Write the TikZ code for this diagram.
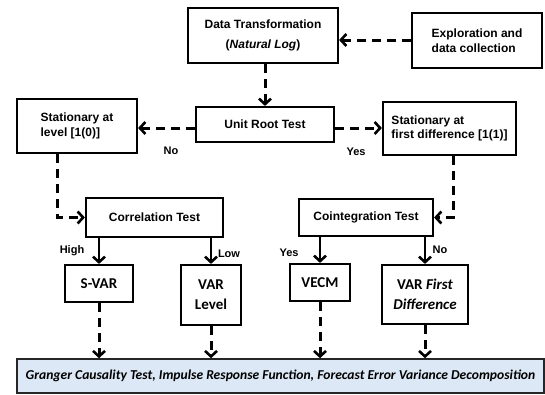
\documentclass[tikz,border=0pt]{standalone}
\usepackage{fontspec}
\setmainfont{Liberation Sans}
\newfontfamily\calibfont{Carlito}
\usetikzlibrary{arrows.meta}
\definecolor{panelblue}{HTML}{DCE8F5}

\tikzset{
  flowbox/.style={draw,line width=2.2pt,inner sep=0pt,font=\fontsize{12}{14.5}\selectfont\bfseries},
  modelbox/.style={draw,line width=2.2pt,inner sep=0pt,align=center,font=\calibfont\fontsize{15}{20}\selectfont\bfseries},
  answer/.style={inner sep=0pt,font=\fontsize{11}{13}\selectfont\bfseries},
  barb/.style={-{Straight Barb[length=5.5pt,width=12pt,line width=2.6pt]}},
  dashlink/.style={barb,line width=3pt,dash pattern=on 9pt off 6pt},
  solidlink/.style={barb,line width=2.4pt},
}

\begin{document}
\begin{tikzpicture}[x=1pt,y=-1pt]
    \useasboundingbox (0,0) rectangle (545,394);
    % top row
    \node[flowbox,minimum width=150,minimum height=55,align=center] (trans) at (263,35.5) {Data Transformation\\[5pt](\textit{Natural Log})};
    \node[flowbox,minimum width=130,minimum height=55,align=left] (explore) at (477,40.5) {Exploration and\\data collection};
    \node[flowbox,minimum width=138,minimum height=35] (unitroot) at (265,124.5) {Unit Root Test};
    \node[flowbox,minimum width=120,minimum height=54,align=left] (statlevel) at (77,126) {Stationary at\\level [1(0)]};
    \node[flowbox,minimum width=133,minimum height=53,align=left] (statdiff) at (449.5,128.5) {Stationary at\\first difference [1(1)]};
    % tests
    \node[flowbox,minimum width=137,minimum height=39] (corr) at (154.5,217.5) {Correlation Test};
    \node[flowbox,minimum width=134,minimum height=37] (coint) at (366,217.5) {Cointegration Test};
    % models
    \node[modelbox,minimum width=68,minimum height=37] (svar) at (99,283.5) {S-VAR};
    \node[modelbox,minimum width=60,minimum height=60] (varlevel) at (211,295) {VAR\\Level};
    \node[modelbox,minimum width=60,minimum height=37] (vecm) at (320,282.5) {VECM};
    \node[modelbox,minimum width=86,minimum height=59] (vardiff) at (425,294.5) {VAR \textit{First}\\\textit{Difference}};
    \node[draw=black!85,fill=panelblue,line width=1.6pt,minimum width=527,minimum height=34,inner sep=0pt,
          font=\calibfont\fontsize{13.6}{15}\selectfont\bfseries\itshape] (granger) at (280.5,376)
          {Granger Causality Test, Impulse Response Function, Forecast Error Variance Decomposition};

    \draw[dashlink] (explore.west |- 0,40) -- (trans.east |- 0,40);
    \draw[dashlink] (trans.south -| unitroot.north) -- (unitroot.north);
    \draw[dashlink] (unitroot.west |- 0,128) -- (statlevel.east |- 0,128);
    \draw[dashlink] (unitroot.east |- 0,128) -- (statdiff.west |- 0,128);
    \node[answer] (no1) at (171,151) {No};
    \node[answer] (yes1) at (356,152) {Yes};

    \draw[dashlink] ([xshift=-20pt]statlevel.south) |- (corr.west);
    \draw[dashlink] ([xshift=4pt]statdiff.south) |- (coint.east);

    \draw[solidlink] (corr.south -| svar.north) -- (svar.north);
    \draw[solidlink] (corr.south -| varlevel.north) -- (varlevel.north);
    \draw[solidlink] (coint.south -| vecm.north) -- (vecm.north);
    \draw[solidlink] (coint.south -| vardiff.north) -- (vardiff.north);
    \node[answer] (high) at (72,251) {High};
    \node[answer] (low) at (229,254) {Low};
    \node[answer] (yes2) at (289,253) {Yes};
    \node[answer] (no2) at (440,250) {No};

    \foreach \m in {svar,varlevel,vecm,vardiff}
        \draw[dashlink] (\m.south) -- (\m.south |- granger.north);
\end{tikzpicture}
\end{document}
